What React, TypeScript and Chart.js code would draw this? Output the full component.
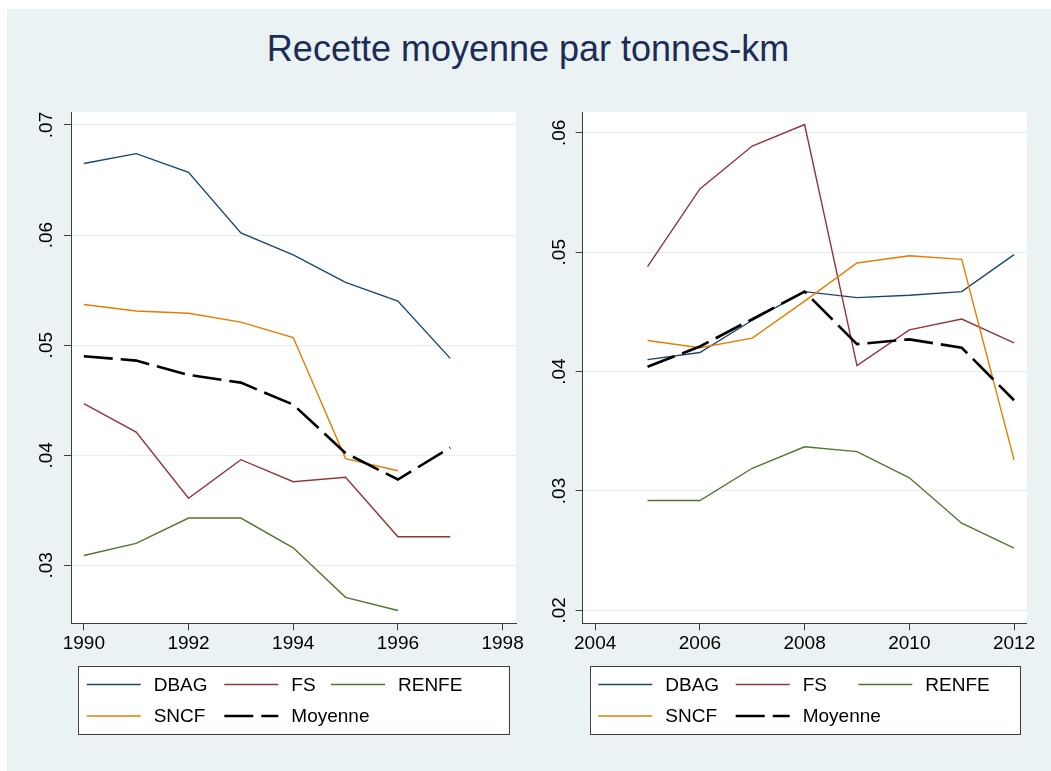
import React, { useEffect, useRef } from "react";
import { Chart, registerables } from "chart.js";

Chart.register(...registerables);

const FONT = "'Liberation Sans', Arial, Helvetica, sans-serif";

// ---------- DATA ----------
const leftYears = [1990, 1991, 1992, 1993, 1994, 1995, 1996, 1997];
const leftDBAG = [0.0665, 0.0674, 0.0657, 0.0602, 0.0582, 0.0557, 0.054, 0.0488];
const leftFS = [0.0447, 0.0421, 0.0361, 0.0396, 0.0376, 0.038, 0.0326, 0.0326];
const leftRENFE = [0.0309, 0.032, 0.0343, 0.0343, 0.0316, 0.0271, 0.0259, null];
const leftSNCF = [0.0537, 0.0531, 0.0529, 0.0521, 0.0507, 0.0397, 0.0386, null];
const leftMoyenne = [0.049, 0.0486, 0.0473, 0.0466, 0.0446, 0.0402, 0.0378, 0.0407];

const rightYears = [2005, 2006, 2007, 2008, 2009, 2010, 2011, 2012];
const rightDBAG = [0.041, 0.0416, 0.0443, 0.0467, 0.0462, 0.0464, 0.0467, 0.0498];
const rightFS = [0.0488, 0.0553, 0.0589, 0.0607, 0.0405, 0.0435, 0.0444, 0.0424];
const rightRENFE = [0.0292, 0.0292, 0.0319, 0.0337, 0.0333, 0.0311, 0.0273, 0.0252];
const rightSNCF = [0.0426, 0.042, 0.0428, 0.0459, 0.0491, 0.0497, 0.0494, 0.0326];
const rightMoyenne = [0.0404, 0.0421, 0.0444, 0.0467, 0.0423, 0.0427, 0.042, 0.0376];

const leftXTicks = [1990, 1992, 1994, 1996, 1998];
const leftYTicks = [0.03, 0.04, 0.05, 0.06, 0.07];
const leftYTickLabels = [".03", ".04", ".05", ".06", ".07"];

const rightXTicks = [2004, 2006, 2008, 2010, 2012];
const rightYTicks = [0.02, 0.03, 0.04, 0.05, 0.06];
const rightYTickLabels = [".02", ".03", ".04", ".05", ".06"];

const seriesNames = ["DBAG", "FS", "RENFE", "SNCF", "Moyenne"];
const titleText = "Recette moyenne par tonnes-km";

// ---------- STYLE ----------
const COLORS = ["#1A476F", "#90353B", "#55752F", "#E37E00", "#000000"];
const BG = "#EAF2F3";
const GRID = "#E3ECEF";
const AXIS = "#3c3c3c";

type PanelProps = {
  left: number;
  width: number;
  years: number[];
  series: (number | null)[][];
  xMin: number;
  xMax: number;
  yMin: number;
  yMax: number;
  xTicks: number[];
  yTicks: number[];
  yTickLabels: string[];
  yAxisWidth: number;
  padRight: number;
  yLabelPad: number;
  legendBox: { x: number; y: number; w: number; h: number };
  legendCols: number[];
  legendRows: number[];
};

function Panel(p: PanelProps) {
  const ref = useRef<HTMLCanvasElement | null>(null);
  useEffect(() => {
    if (!ref.current) return;
    const plotBg = {
      id: "plotBg",
      beforeDraw(chart: any) {
        const { ctx, chartArea: a } = chart;
        ctx.save();
        ctx.fillStyle = "#ffffff";
        ctx.fillRect(a.left, a.top, a.right - a.left, a.bottom - a.top);
        ctx.restore();
      },
    };
    const boxLegend = {
      id: "boxLegend",
      afterDraw(chart: any) {
        const ctx = chart.ctx;
        const b = p.legendBox;
        ctx.save();
        ctx.fillStyle = "#ffffff";
        ctx.fillRect(b.x, b.y, b.w, b.h);
        ctx.strokeStyle = "#404040";
        ctx.lineWidth = 1;
        ctx.strokeRect(Math.round(b.x) + 0.5, Math.round(b.y) + 0.5, Math.round(b.w), Math.round(b.h));
        chart.data.datasets.forEach((ds: any, i: number) => {
          const row = Math.floor(i / 3);
          const col = i % 3;
          const lx = b.x + p.legendCols[col];
          const ly = p.legendRows[row];
          ctx.beginPath();
          ctx.setLineDash(ds.borderDash || []);
          ctx.strokeStyle = ds.borderColor;
          ctx.lineWidth = ds.borderWidth;
          ctx.moveTo(lx, ly);
          ctx.lineTo(lx + 54, ly);
          ctx.stroke();
          ctx.setLineDash([]);
          ctx.fillStyle = "#000000";
          ctx.font = `19px ${FONT}`;
          ctx.textBaseline = "middle";
          ctx.textAlign = "left";
          ctx.fillText(ds.label, lx + 67, ly + 1);
        });
        ctx.restore();
      },
    };
    const orders = [4, 3, 2, 1, 0];
    const chart = new Chart(ref.current, {
      type: "line",
      data: {
        datasets: p.series.map((vals, i) => ({
          label: seriesNames[i],
          data: p.years.map((y, j) => ({ x: y, y: vals[j] })),
          borderColor: COLORS[i],
          backgroundColor: COLORS[i],
          borderWidth: i === 4 ? 2.6 : 1.4,
          borderDash: i === 4 ? [29, 8] : [],
          pointRadius: 0,
          tension: 0,
          spanGaps: false,
          fill: false,
          order: orders[i],
        })),
      },
      options: {
        responsive: false,
        animation: false,
        devicePixelRatio: 1,
        layout: { padding: { top: 112.1, left: 0, right: p.padRight, bottom: 0 } },
        plugins: {
          legend: { display: false },
          tooltip: { enabled: false },
          title: { display: false },
        },
        events: [],
        scales: {
          x: {
            type: "linear",
            min: p.xMin,
            max: p.xMax,
            afterBuildTicks: (axis: any) => {
              axis.ticks = p.xTicks.map((v) => ({ value: v }));
            },
            afterFit: (axis: any) => {
              axis.height = 771 - 623.2;
            },
            grid: {
              drawOnChartArea: false,
              drawTicks: true,
              tickLength: 7,
              tickColor: AXIS,
              tickWidth: 1,
            },
            border: { display: true, color: AXIS, width: 1 },
            ticks: {
              autoSkip: false,
              maxRotation: 0,
              minRotation: 0,
              padding: 2,
              color: "#000000",
              font: { family: FONT, size: 19 },
              callback: (v: any) => String(v),
            },
          },
          y: {
            type: "linear",
            min: p.yMin,
            max: p.yMax,
            afterBuildTicks: (axis: any) => {
              axis.ticks = p.yTicks.map((v) => ({ value: v }));
            },
            afterFit: (axis: any) => {
              axis.width = p.yAxisWidth;
            },
            grid: {
              drawOnChartArea: true,
              color: GRID,
              lineWidth: 1,
              drawTicks: true,
              tickLength: 7,
              tickColor: AXIS,
              tickWidth: 1,
            },
            border: { display: true, color: AXIS, width: 1 },
            ticks: {
              autoSkip: false,
              minRotation: 90,
              maxRotation: 90,
              crossAlign: "center",
              padding: p.yLabelPad,
              color: "#000000",
              font: { family: FONT, size: 19 },
              callback: (_v: any, i: number) => p.yTickLabels[i],
            },
          },
        },
      } as any,
      plugins: [plotBg, boxLegend],
    });
    return () => chart.destroy();
  }, []);
  return (
    <canvas
      ref={ref}
      width={p.width}
      height={771}
      style={{ position: "absolute", left: p.left, top: 0, width: p.width, height: 771 }}
    />
  );
}

export default function App() {
  return (
    <div style={{ position: "absolute", left: 0, top: 0, width: 1051, height: 771, overflow: "hidden" }}>
      <div style={{ position: "absolute", left: 7, top: 9, width: 1044, height: 762, background: BG }} />
      <div
        style={{
          position: "absolute",
          left: 0,
          top: 30.5,
          width: 1056,
          textAlign: "center",
          fontFamily: FONT,
          fontSize: 36,
          lineHeight: "36px",
          color: "#1C2C57",
          whiteSpace: "nowrap",
        }}
      >
        {titleText}
      </div>
      <Panel
        left={0}
        width={540}
        years={leftYears}
        series={[leftDBAG, leftFS, leftRENFE, leftSNCF, leftMoyenne]}
        xMin={1989.755}
        xMax={1998.258}
        yMin={0.02475}
        yMax={0.07117}
        xTicks={leftXTicks}
        yTicks={leftYTicks}
        yTickLabels={leftYTickLabels}
        yAxisWidth={71}
        padRight={540 - 516.1}
        yLabelPad={4}
        legendBox={{ x: 77.7, y: 665.5, w: 430.6, h: 68 }}
        legendCols={[9, 146.6, 253.3]}
        legendRows={[684.5, 716]}
      />
      <Panel
        left={540}
        width={511}
        years={rightYears}
        series={[rightDBAG, rightFS, rightRENFE, rightSNCF, rightMoyenne]}
        xMin={2003.76}
        xMax={2012.245}
        yMin={0.01892}
        yMax={0.06174}
        xTicks={rightXTicks}
        yTicks={rightYTicks}
        yTickLabels={rightYTickLabels}
        yAxisWidth={42.6}
        padRight={511 - 486.9}
        yLabelPad={3}
        legendBox={{ x: 49.7, y: 666, w: 429.6, h: 68 }}
        legendCols={[8.6, 146, 268.6]}
        legendRows={[684.5, 716]}
      />
    </div>
  );
}
